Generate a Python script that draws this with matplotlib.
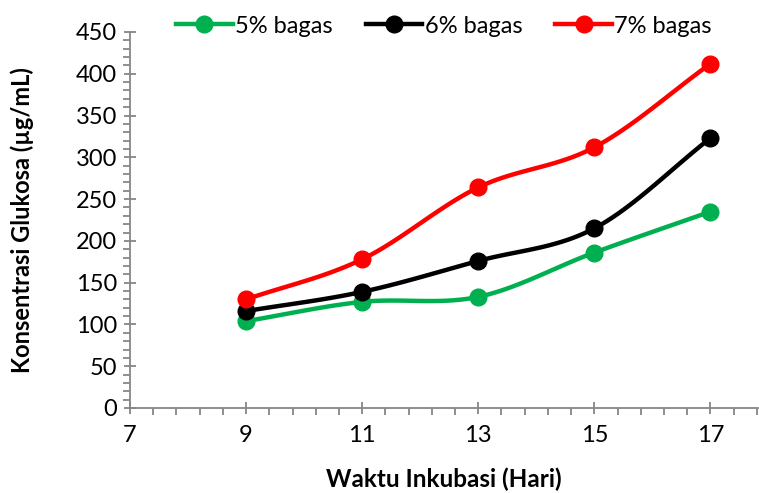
import numpy as np
import matplotlib.pyplot as plt
from matplotlib.ticker import MultipleLocator

# data
hari = [9, 11, 13, 15, 17]
bagas_5 = [104, 127, 133, 186, 235]
bagas_6 = [116, 139, 176, 215, 323]
bagas_7 = [130, 178, 264, 312, 412]
series_names = ["5% bagas", "6% bagas", "7% bagas"]
colors = ["#00B050", "#000000", "#FF0000"]

plt.rcParams['font.family'] = ['Lato', 'DejaVu Sans']


def smooth(x, y, n=30):
    # catmull-rom style smoothing like Excel's smoothed line
    x = np.asarray(x, float)
    y = np.asarray(y, float)
    px = np.concatenate([[2 * x[0] - x[1]], x, [2 * x[-1] - x[-2]]])
    py = np.concatenate([[2 * y[0] - y[1]], y, [2 * y[-1] - y[-2]]])
    xs, ys = [], []
    for i in range(1, len(px) - 2):
        p0, p1, p2, p3 = [np.array([px[j], py[j]]) for j in range(i - 1, i + 3)]
        c1 = p1 + (p2 - p0) / 6
        c2 = p2 - (p3 - p1) / 6
        t = np.linspace(0, 1, n)[:, None]
        pts = (1 - t) ** 3 * p1 + 3 * (1 - t) ** 2 * t * c1 + 3 * (1 - t) * t ** 2 * c2 + t ** 3 * p2
        xs.extend(pts[:, 0])
        ys.extend(pts[:, 1])
    return xs, ys


fig = plt.figure(figsize=(7.59, 4.93), dpi=100)
ax = fig.add_axes([130 / 759, 85 / 493, 628 / 759, 376 / 493])

for vals, name, c in zip([bagas_5, bagas_6, bagas_7], series_names, colors):
    sx, sy = smooth(hari, vals)
    ax.plot(sx, sy, color=c, lw=3.2, solid_capstyle='round', zorder=2)
    ax.plot(hari, vals, 'o', color=c, ms=12, zorder=3)
    ax.plot([], [], '-o', color=c, lw=3.2, ms=12, label=name)

ax.set_xlim(7, 17.82)
ax.set_ylim(0, 450)
ax.set_xticks(np.arange(7, 18, 2))
ax.set_xticks(np.arange(7, 17.9, 0.4), minor=True)
ax.yaxis.set_major_locator(MultipleLocator(50))
ax.yaxis.set_minor_locator(MultipleLocator(10))

for s in ['top', 'right']:
    ax.spines[s].set_visible(False)
for s in ['left', 'bottom']:
    ax.spines[s].set_color('#868686')
    ax.spines[s].set_linewidth(1.3)

ax.tick_params(which='major', direction='inout', length=9, width=1.3, color='#868686',
               labelsize=17, pad=5)
ax.tick_params(which='minor', direction='out', length=5, width=1.3, color='#868686')
ax.tick_params(axis='x', which='major', pad=8)

ax.set_xlabel("Waktu Inkubasi (Hari)", fontsize=17.5, fontweight='bold', labelpad=15)
ax.set_ylabel("Konsentrasi Glukosa (µg/mL)", fontsize=17, fontweight='bold', labelpad=30)

ax.legend(loc='upper center', bbox_to_anchor=(0.5, 1.1), ncol=3, frameon=False,
          fontsize=17, handlelength=2.4, handletextpad=0.1, columnspacing=1.4)

fig.savefig("out.png", dpi=100)
